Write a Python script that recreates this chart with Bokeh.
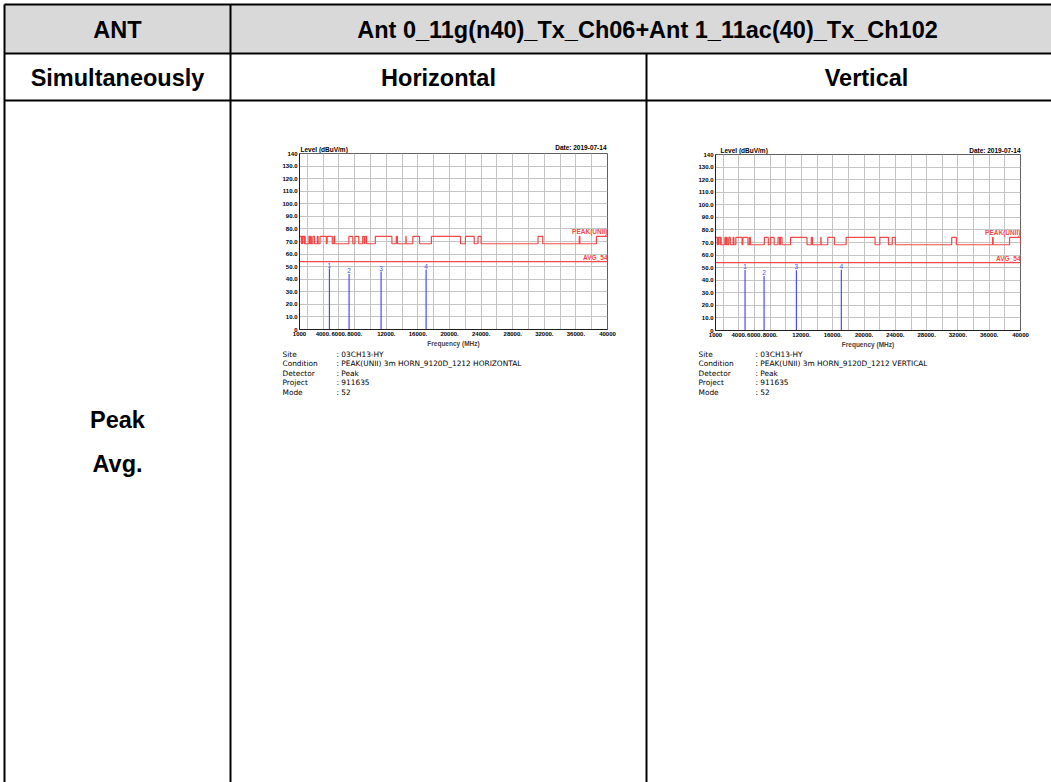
from bokeh.plotting import figure
from bokeh.models import Range1d, FixedTicker, Label, Span
from bokeh.embed import file_html
from bokeh.resources import INLINE
from bokeh.core.properties import value

# ---------------- data ----------------
header_ant = "ANT"
header_span = "Ant 0_11g(n40)_Tx_Ch06+Ant 1_11ac(40)_Tx_Ch102"
row2_texts = ["Simultaneously", "Horizontal", "Vertical"]
row3_texts = ["Peak", "Avg."]

# PEAK(UNII) limit: high level inside restricted bands, low level elsewhere (MHz)
restricted_lo = [1000, 1300, 1435, 1645.5, 1660, 1718.8, 2200, 2310, 2483.5, 2690,
                 3260, 3332, 3345.8, 3600, 4500, 5350, 7250, 8025, 9000, 9300,
                 10600, 13250, 14470, 15350, 17700, 22010, 23600, 31200, 36430, 38600]
restricted_hi = [1240, 1427, 1626.5, 1646.5, 1710, 1722.2, 2300, 2390, 2500, 2900,
                 3267, 3339, 3358, 4400, 5150, 5460, 7750, 8500, 9200, 9500,
                 12700, 13400, 14500, 16200, 21400, 23120, 24000, 31800, 36500, 40000]
limit_low = 68.2
limit_high = 74.0
avg_limit = 54.0

x_tick_values = [1000, 4000, 6000, 8000, 12000, 16000, 20000, 24000, 28000, 32000, 36000, 40000]
x_tick_labels = ["1000", "4000.", "6000.", "8000.", "12000.", "16000.", "20000.",
                 "24000.", "28000.", "32000.", "36000.", "40000"]
x_grid_values = [2000, 4000, 6000, 8000, 10000, 12000, 14000, 16000, 18000, 20000,
                 22000, 24000, 26000, 28000, 30000, 32000, 34000, 36000, 38000]
y_tick_values = [0, 10, 20, 30, 40, 50, 60, 70, 80, 90, 100, 110, 120, 130, 140]
y_tick_labels = ["0", "10.0", "20.0", "30.0", "40.0", "50.0", "60.0", "70.0", "80.0",
                 "90.0", "100.0", "110.0", "120.0", "130.0", "140"]

marker_ids = ["1", "2", "3", "4"]
h_marker_freq = [4790, 7280, 11330, 17030]
h_marker_level = [48.5, 44.2, 46.1, 47.7]
v_marker_freq = [4780, 7210, 11345, 17090]
v_marker_level = [48.2, 43.4, 47.9, 48.4]

y_title = "Level (dBuV/m)"
date_text = "Date: 2019-07-14"
info_keys = ["Site", "Condition", "Detector", "Project", "Mode"]
h_info_values = [": 03CH13-HY", ": PEAK(UNII) 3m HORN_9120D_1212 HORIZONTAL", ": Peak", ": 911635", ": 52"]
v_info_values = [": 03CH13-HY", ": PEAK(UNII) 3m HORN_9120D_1212 VERTICAL", ": Peak", ": 911635", ": 52"]

# ---------------- styles / layout ----------------
PAGE_W, PAGE_H = 1051, 782
HEAD_FONT = "Liberation Sans"
CHART_FONT = "Liberation Sans"
INFO_FONT = "DejaVu Sans"
RED = "#f44848"
BLUE = "#4a4aff"
GRID = "#c4c4c4"

# table geometry (page pixels)
col_x = [4, 230, 646]
row_y = [4, 53, 100]
tbl_right = 1090
tbl_bottom = 800


def build_limit(lo, hi):
    xs, ys = [], []
    for a, b in zip(lo, hi):
        xs += [a, a, b, b]
        ys += [limit_low, limit_high, limit_high, limit_low]
    return xs, ys


def make_chart(left, top, fw, freqs, levels):
    fl, ft, fh, fr, fb = 37, 13, 176, 16, 24
    p = figure(width=fl + fw + fr, height=ft + fh + fb,
               x_range=Range1d(1000, 40000), y_range=Range1d(0, 140),
               output_backend="svg", toolbar_location=None, title_location=None,
               min_border_left=fl, min_border_top=ft, min_border_right=fr,
               min_border_bottom=fb)
    p.styles = {"position": "absolute", "left": f"{left}px", "top": f"{top}px"}
    p.background_fill_color = "white"
    p.border_fill_color = None
    p.outline_line_color = "#606060"
    for ax in (p.xaxis[0], p.yaxis[0]):
        ax.major_tick_out = 0
        ax.major_tick_in = 0
        ax.minor_tick_line_color = None
        ax.axis_line_color = "#202020"
        ax.major_label_text_font = CHART_FONT
        ax.major_label_text_font_style = "bold"
        ax.major_label_text_font_size = "6px"
        ax.major_label_text_color = "black"
    p.xaxis.ticker = FixedTicker(ticks=x_tick_values)
    p.xaxis.major_label_overrides = dict(zip(x_tick_values, x_tick_labels))
    p.xaxis.major_label_standoff = 2
    p.xaxis.axis_label = "Frequency (MHz)"
    p.xaxis.axis_label_standoff = 1
    p.xaxis.axis_label_text_font = CHART_FONT
    p.xaxis.axis_label_text_font_style = "bold"
    p.xaxis.axis_label_text_font_size = "6.5px"
    p.yaxis.ticker = FixedTicker(ticks=y_tick_values)
    p.yaxis.major_label_overrides = dict(zip(y_tick_values, y_tick_labels))
    p.yaxis.major_label_standoff = 2
    p.xgrid.ticker = FixedTicker(ticks=x_grid_values)
    p.ygrid.ticker = FixedTicker(ticks=y_tick_values)
    p.grid.grid_line_color = GRID
    p.grid.grid_line_width = 1

    xs, ys = build_limit(restricted_lo, restricted_hi)
    p.line(xs, ys, line_color=RED, line_width=1.2)
    p.add_layout(Span(location=avg_limit, dimension="width", line_color=RED, line_width=1.2))

    p.segment(x0=freqs, y0=[0] * len(freqs), x1=freqs, y1=levels, line_color=BLUE, line_width=1.2)
    p.text(x=freqs, y=levels, text=marker_ids, y_offset=-1, text_align="center",
           text_baseline="bottom", text_font=value(CHART_FONT), text_font_size="6.5px",
           text_color=BLUE)

    lab_kw = dict(text_font=CHART_FONT, text_font_style="bold", text_font_size="6.5px")
    p.add_layout(Label(x=40000, y=limit_high, text="PEAK(UNII)", text_align="right",
                       text_baseline="bottom", y_offset=1, text_color=RED, **lab_kw))
    p.add_layout(Label(x=40000, y=avg_limit, text="AVG_54", text_align="right",
                       text_baseline="bottom", y_offset=1, text_color=RED, **lab_kw))
    return p


# ---------------- table ----------------
t = figure(width=PAGE_W, height=PAGE_H, x_range=Range1d(0, PAGE_W), y_range=Range1d(PAGE_H, 0),
           output_backend="svg", toolbar_location=None, title_location=None,
           x_axis_location=None, y_axis_location=None, min_border=0)
t.styles = {"position": "absolute", "left": "0px", "top": "0px"}
t.grid.visible = False
t.outline_line_color = None
t.background_fill_color = "white"
t.border_fill_color = "white"

t.quad(left=[col_x[0]], right=[tbl_right], top=[row_y[0]], bottom=[row_y[1]],
       fill_color="#d9d9d9", line_color=None)
t.segment(x0=[col_x[0]] * 3, y0=row_y, x1=[tbl_right] * 3, y1=row_y,
          line_color="black", line_width=2)
t.segment(x0=col_x, y0=[row_y[0], row_y[0], row_y[1]], x1=col_x, y1=[tbl_bottom] * 3,
          line_color="black", line_width=2)

hk = dict(text_font=value(HEAD_FONT), text_font_style="bold", text_font_size="23.5px",
          text_align="center", text_baseline="middle", text_color="black")
t.text(x=[117, 647], y=[29, 29], text=[header_ant, header_span], **hk)
t.text(x=[117, 438, 866], y=[77, 77, 77], text=row2_texts, **hk)
t.text(x=[117, 117], y=[419, 463], text=row3_texts, **hk)

# chart titles (outside the chart frames)
ck = dict(text_font=value(CHART_FONT), text_font_style="bold", text_font_size="6.5px",
          text_baseline="middle", text_color="black")
t.text(x=[300, 720], y=[148.5, 150], text=[y_title, y_title], text_align="left", **ck)
t.text(x=[606, 1020], y=[147, 150], text=[date_text, date_text], text_align="right", **ck)

ik = dict(text_font=value(INFO_FONT), text_font_size="7.4px", text_baseline="middle",
          text_align="left", text_color="black")
info_y = [353.5, 363, 372.5, 382, 391.5]
t.text(x=[282] * 5, y=info_y, text=info_keys, **ik)
t.text(x=[336] * 5, y=info_y, text=h_info_values, **ik)
t.text(x=[698] * 5, y=info_y, text=info_keys, **ik)
t.text(x=[755] * 5, y=info_y, text=v_info_values, **ik)

ch_h = make_chart(262, 140, 308, h_marker_freq, h_marker_level)
ch_v = make_chart(678, 141, 305, v_marker_freq, v_marker_level)

open("out.html", "w").write(file_html([t, ch_h, ch_v], INLINE))
